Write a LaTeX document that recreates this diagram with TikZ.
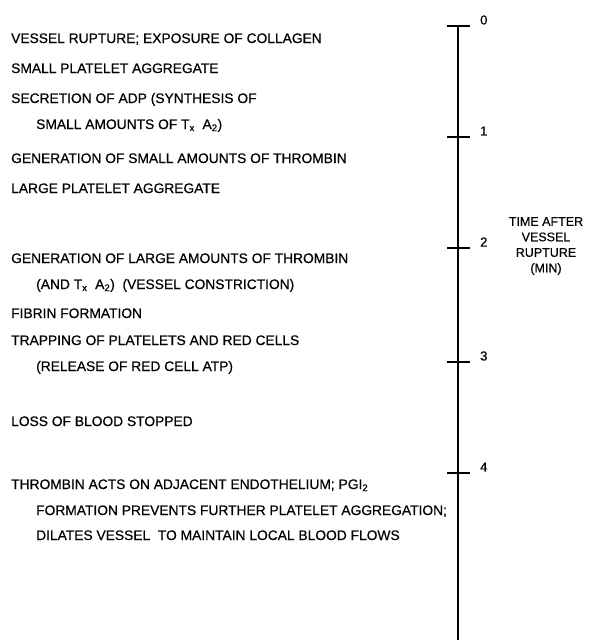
\documentclass[tikz,border=0pt]{standalone}
\usepackage{fontspec}
\setmainfont{Liberation Sans}[FakeBold=0.5]

\begin{document}
\begin{tikzpicture}[x=1pt,y=-1pt,
    event/.style={anchor=base west,inner sep=0pt,font=\fontsize{13.8}{16}\selectfont},
    ticklabel/.style={anchor=west,inner sep=0pt,font=\fontsize{13}{15}\selectfont},
    axisline/.style={line width=1.6pt}]
    \useasboundingbox (0,0) rectangle (591,640);
    % time axis
    \coordinate (Atop) at (458,26);
    \coordinate (Abot) at (458,640);
    \draw[axisline] (Atop) -- (Abot);
    \foreach \t/\y in {0/26,1/137,2/248,3/362,4/473} {
      \coordinate (T\t) at (458,\y);
      \draw[axisline] ([xshift=-11pt]T\t) -- ([xshift=12pt]T\t);
      \node[ticklabel] (L\t) at ([xshift=22pt,yshift=6pt]T\t) {\t};
    }
    \node[align=center,inner sep=0pt,font=\fontsize{12.5}{15.5}\selectfont]
      (axistitle) at (546,246) {TIME AFTER\\VESSEL\\RUPTURE\\(MIN)};
    % events
    \node[event] (e1)  at (11,43)  {VESSEL RUPTURE; EXPOSURE OF COLLAGEN};
    \node[event] (e2)  at (11,73)  {SMALL PLATELET AGGREGATE};
    \node[event] (e3)  at (11,103) {SECRETION OF ADP (SYNTHESIS OF};
    \node[event] (e3b) at (36,129) {SMALL AMOUNTS OF T\textsubscript{x}\ \ A\textsubscript{2})};
    \node[event] (e4)  at (11,163) {GENERATION OF SMALL AMOUNTS OF THROMBIN};
    \node[event] (e5)  at (11,193) {LARGE PLATELET AGGREGATE};
    \node[event] (e6)  at (11,263) {GENERATION OF LARGE AMOUNTS OF THROMBIN};
    \node[event] (e6b) at (36,289) {(AND T\textsubscript{x}\ \ A\textsubscript{2})\ \ (VESSEL CONSTRICTION)};
    \node[event] (e7)  at (11,318) {FIBRIN FORMATION};
    \node[event] (e8)  at (11,345) {TRAPPING OF PLATELETS AND RED CELLS};
    \node[event] (e8b) at (36,371) {(RELEASE OF RED CELL ATP)};
    \node[event] (e9)  at (11,426) {LOSS OF BLOOD STOPPED};
    \node[event] (e10) at (11,489) {THROMBIN ACTS ON ADJACENT ENDOTHELIUM; PGI\textsubscript{2}};
    \node[event] (e10b) at (36,515) {FORMATION PREVENTS FURTHER PLATELET AGGREGATION;};
    \node[event] (e10c) at (36,540) {DILATES VESSEL\ \ TO MAINTAIN LOCAL BLOOD FLOWS};
\end{tikzpicture}
\end{document}
